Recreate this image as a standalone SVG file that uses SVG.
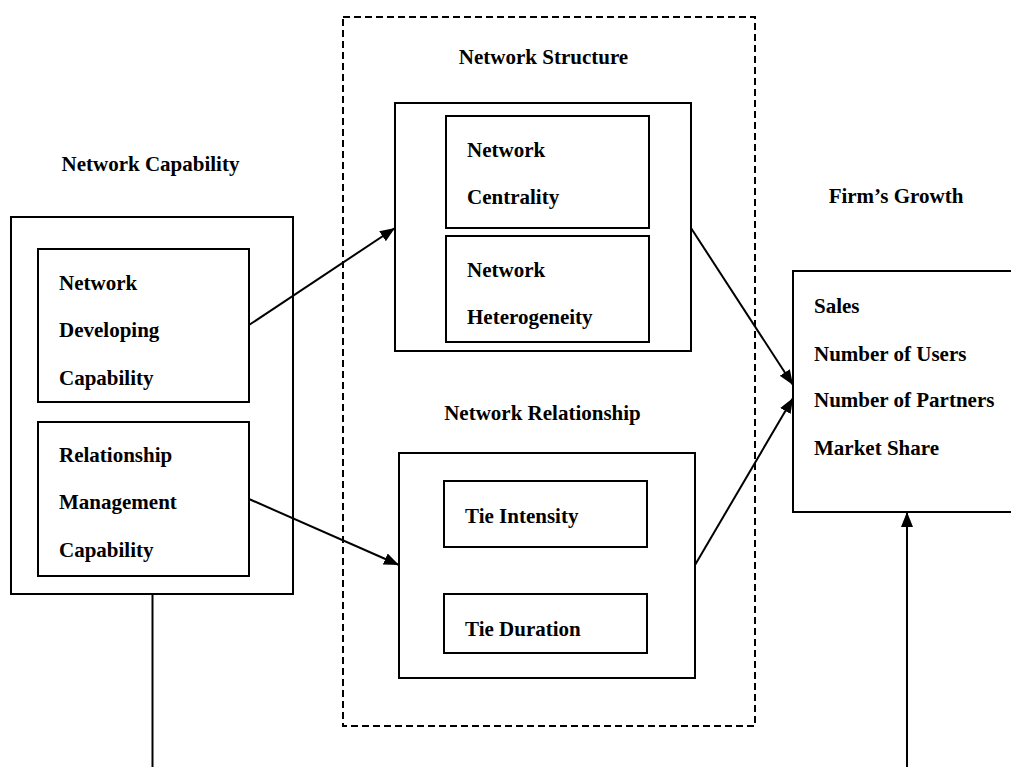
<svg xmlns="http://www.w3.org/2000/svg" width="1011" height="767" viewBox="0 0 1011 767">
<style>
.box{fill:none;stroke:#000;stroke-width:2}
.dash{fill:none;stroke:#000;stroke-width:2;stroke-dasharray:7 4}
.t{font-family:"Liberation Serif","Times New Roman",serif;font-weight:bold;font-size:21px;fill:#000}
.c{text-anchor:middle}
.ln{fill:none;stroke:#000;stroke-width:2}
</style>
<defs>
<marker id="ah" markerUnits="userSpaceOnUse" markerWidth="16" markerHeight="14" refX="15" refY="7" orient="auto">
<path d="M0,1 L15,7 L0,13 Z" fill="#000"/>
</marker>
</defs>
<rect width="1011" height="767" fill="#fff"/>
<g id="network-capability">
<text class="t c" x="150.5" y="171">Network Capability</text>
<rect class="box" x="11" y="217" width="282" height="377"/>
<g id="ndc">
<rect class="box" x="38" y="249" width="211" height="153"/>
<text class="t" x="59" y="290">Network</text>
<text class="t" x="59" y="337">Developing</text>
<text class="t" x="59" y="385">Capability</text>
</g>
<g id="rmc">
<rect class="box" x="38" y="422" width="211" height="154"/>
<text class="t" x="59" y="462">Relationship</text>
<text class="t" x="59" y="509">Management</text>
<text class="t" x="59" y="557">Capability</text>
</g>
</g>
<g id="middle-group">
<rect class="dash" x="343" y="17" width="412" height="709"/>
</g>
<g id="network-structure">
<text class="t c" x="543.5" y="64">Network Structure</text>
<rect class="box" x="395" y="103" width="296" height="248"/>
<g id="centrality">
<rect class="box" x="446" y="116" width="203" height="112"/>
<text class="t" x="467" y="157">Network</text>
<text class="t" x="467" y="204">Centrality</text>
</g>
<g id="heterogeneity">
<rect class="box" x="446" y="236" width="203" height="106"/>
<text class="t" x="467" y="277">Network</text>
<text class="t" x="467" y="324">Heterogeneity</text>
</g>
</g>
<g id="network-relationship">
<text class="t c" x="542.5" y="420">Network Relationship</text>
<rect class="box" x="399" y="453" width="296" height="225"/>
<g id="tie-intensity">
<rect class="box" x="444" y="481" width="203" height="66"/>
<text class="t" x="465" y="523">Tie Intensity</text>
</g>
<g id="tie-duration">
<rect class="box" x="444" y="594" width="203" height="59"/>
<text class="t" x="465" y="636">Tie Duration</text>
</g>
</g>
<g id="firms-growth">
<text class="t c" x="896" y="203">Firm’s Growth</text>
<rect class="box" x="793" y="271" width="230" height="241"/>
<text class="t" x="814" y="313">Sales</text>
<text class="t" x="814" y="361">Number of Users</text>
<text class="t" x="814" y="407">Number of Partners</text>
<text class="t" x="814" y="455">Market Share</text>
</g>
<g id="connectors">
<line class="ln" x1="249" y1="325" x2="395" y2="228" marker-end="url(#ah)"/>
<line class="ln" x1="249" y1="499" x2="399" y2="565" marker-end="url(#ah)"/>
<line class="ln" x1="691" y1="228" x2="793" y2="385" marker-end="url(#ah)"/>
<line class="ln" x1="695" y1="565" x2="793" y2="398" marker-end="url(#ah)"/>
<line class="ln" x1="152.5" y1="594" x2="152.5" y2="767"/>
<line class="ln" x1="907" y1="767" x2="907" y2="512" marker-end="url(#ah)"/>
</g>
</svg>
